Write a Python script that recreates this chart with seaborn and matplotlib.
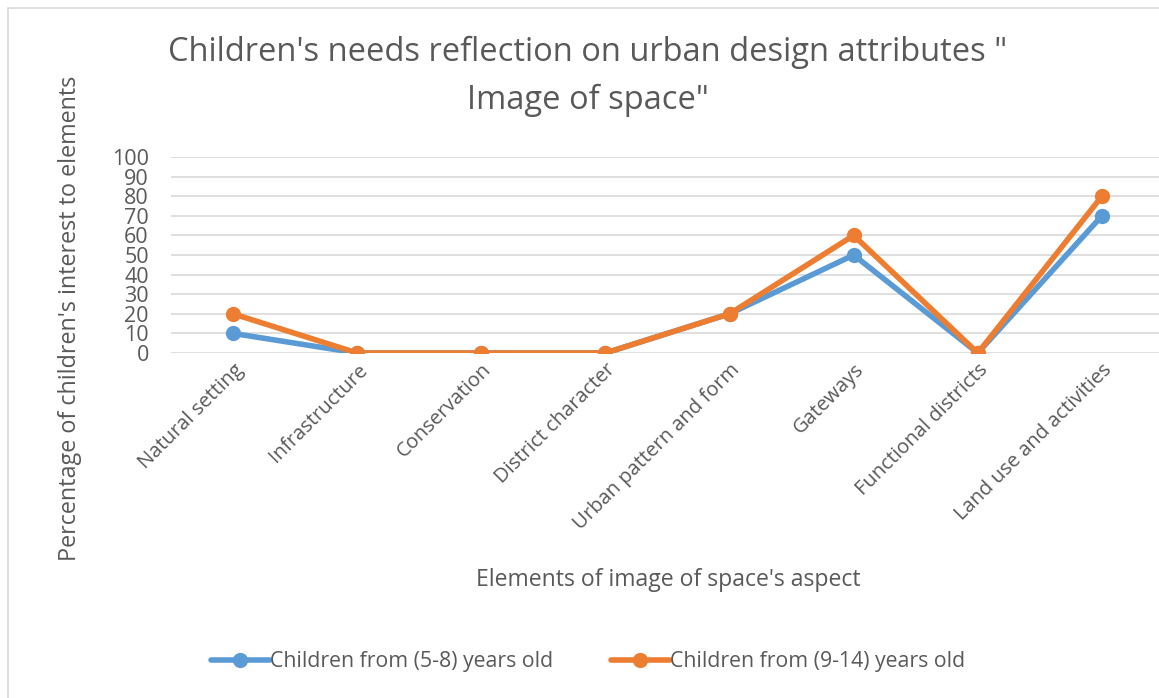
import matplotlib
matplotlib.use("Agg")
import matplotlib.pyplot as plt
import seaborn as sns
import pandas as pd
from matplotlib.patches import Rectangle

# Survey results: share of children interested in each element (%)
elements = [
    "Natural setting",
    "Infrastructure",
    "Conservation",
    "District character",
    "Urban pattern and form",
    "Gateways",
    "Functional districts",
    "Land use and activities",
]
ages_5_8 = [10, 0, 0, 0, 20, 50, 0, 70]
ages_9_14 = [20, 0, 0, 0, 20, 60, 0, 80]
series_names = ["Children from (5-8) years old", "Children from (9-14) years old"]
y_ticks = [0, 10, 20, 30, 40, 50, 60, 70, 80, 90, 100]

df = pd.concat([
    pd.DataFrame({"element": elements, "value": ages_5_8, "group": series_names[0]}),
    pd.DataFrame({"element": elements, "value": ages_9_14, "group": series_names[1]}),
])
df["pos"] = df["element"].map({e: i for i, e in enumerate(elements)})

sns.set_theme(style="white")
plt.rcParams["font.family"] = ["Open Sans", "DejaVu Sans"]
text_color = "#595959"

W, H = 1159, 698
fig = plt.figure(figsize=(W / 100, H / 100), dpi=100)
fig.patch.set_facecolor("white")

# chart border
fig.patches.append(Rectangle((8 / W, -0.1), 1.2, 1.1 - 8 / H, transform=fig.transFigure,
                             fill=False, edgecolor="#D9D9D9", linewidth=1.2))

left, right = 171, 1164
y0, y100 = 353, 157
ax = fig.add_axes([left / W, (H - y0) / H, (right - left) / W, (y0 - y100) / H])

palette = {series_names[0]: "#5B9BD5", series_names[1]: "#ED7D31"}
sns.lineplot(data=df, x="pos", y="value", hue="group", palette=palette, marker="o",
             markersize=11, linewidth=4, markeredgewidth=0, ax=ax, legend=False,
             zorder=3)

ax.set_xlim(-0.5, len(elements) - 0.5)
ax.set_ylim(0, 100)
ax.set_yticks(y_ticks)
ax.set_yticklabels([str(t) for t in y_ticks], fontsize=15.5, color=text_color)
ax.set_xticks(range(len(elements)))
ax.set_xticklabels(elements, rotation=45, ha="right", rotation_mode="anchor",
                   fontsize=14.5, color=text_color)
ax.tick_params(axis="both", length=0)
ax.tick_params(axis="x", pad=5)
ax.tick_params(axis="y", pad=16)
ax.yaxis.grid(True, color="#D9D9D9", linewidth=1.2)
ax.set_axisbelow(True)
for s in ax.spines.values():
    s.set_visible(False)
ax.set_xlabel("")
ax.set_ylabel("")

fig.text(588 / W, 1 - 52 / H, "Children's needs reflection on urban design attributes \"",
         ha="center", va="center", fontsize=23.5, color=text_color)
fig.text(588 / W, 1 - 100 / H, "Image of space\"",
         ha="center", va="center", fontsize=23.5, color=text_color)
fig.text(70 / W, 1 - 318 / H, "Percentage of children's interest to elements",
         ha="center", va="center", rotation=90, fontsize=16.8, color=text_color)
fig.text(668 / W, 1 - 580 / H, "Elements of image of space's aspect",
         ha="center", va="center", fontsize=16.6, color=text_color)

handles = [plt.Line2D([], [], color=palette[n], marker="o", markersize=11,
                      linewidth=4, markeredgewidth=0) for n in series_names]
fig.legend(handles, series_names, loc="center", bbox_to_anchor=(588 / W, 1 - 662 / H),
           ncol=2, frameon=False, fontsize=15.3, handlelength=2.75, handletextpad=0.0,
           columnspacing=2.75, labelcolor=text_color)

fig.savefig("out.png", dpi=100)
